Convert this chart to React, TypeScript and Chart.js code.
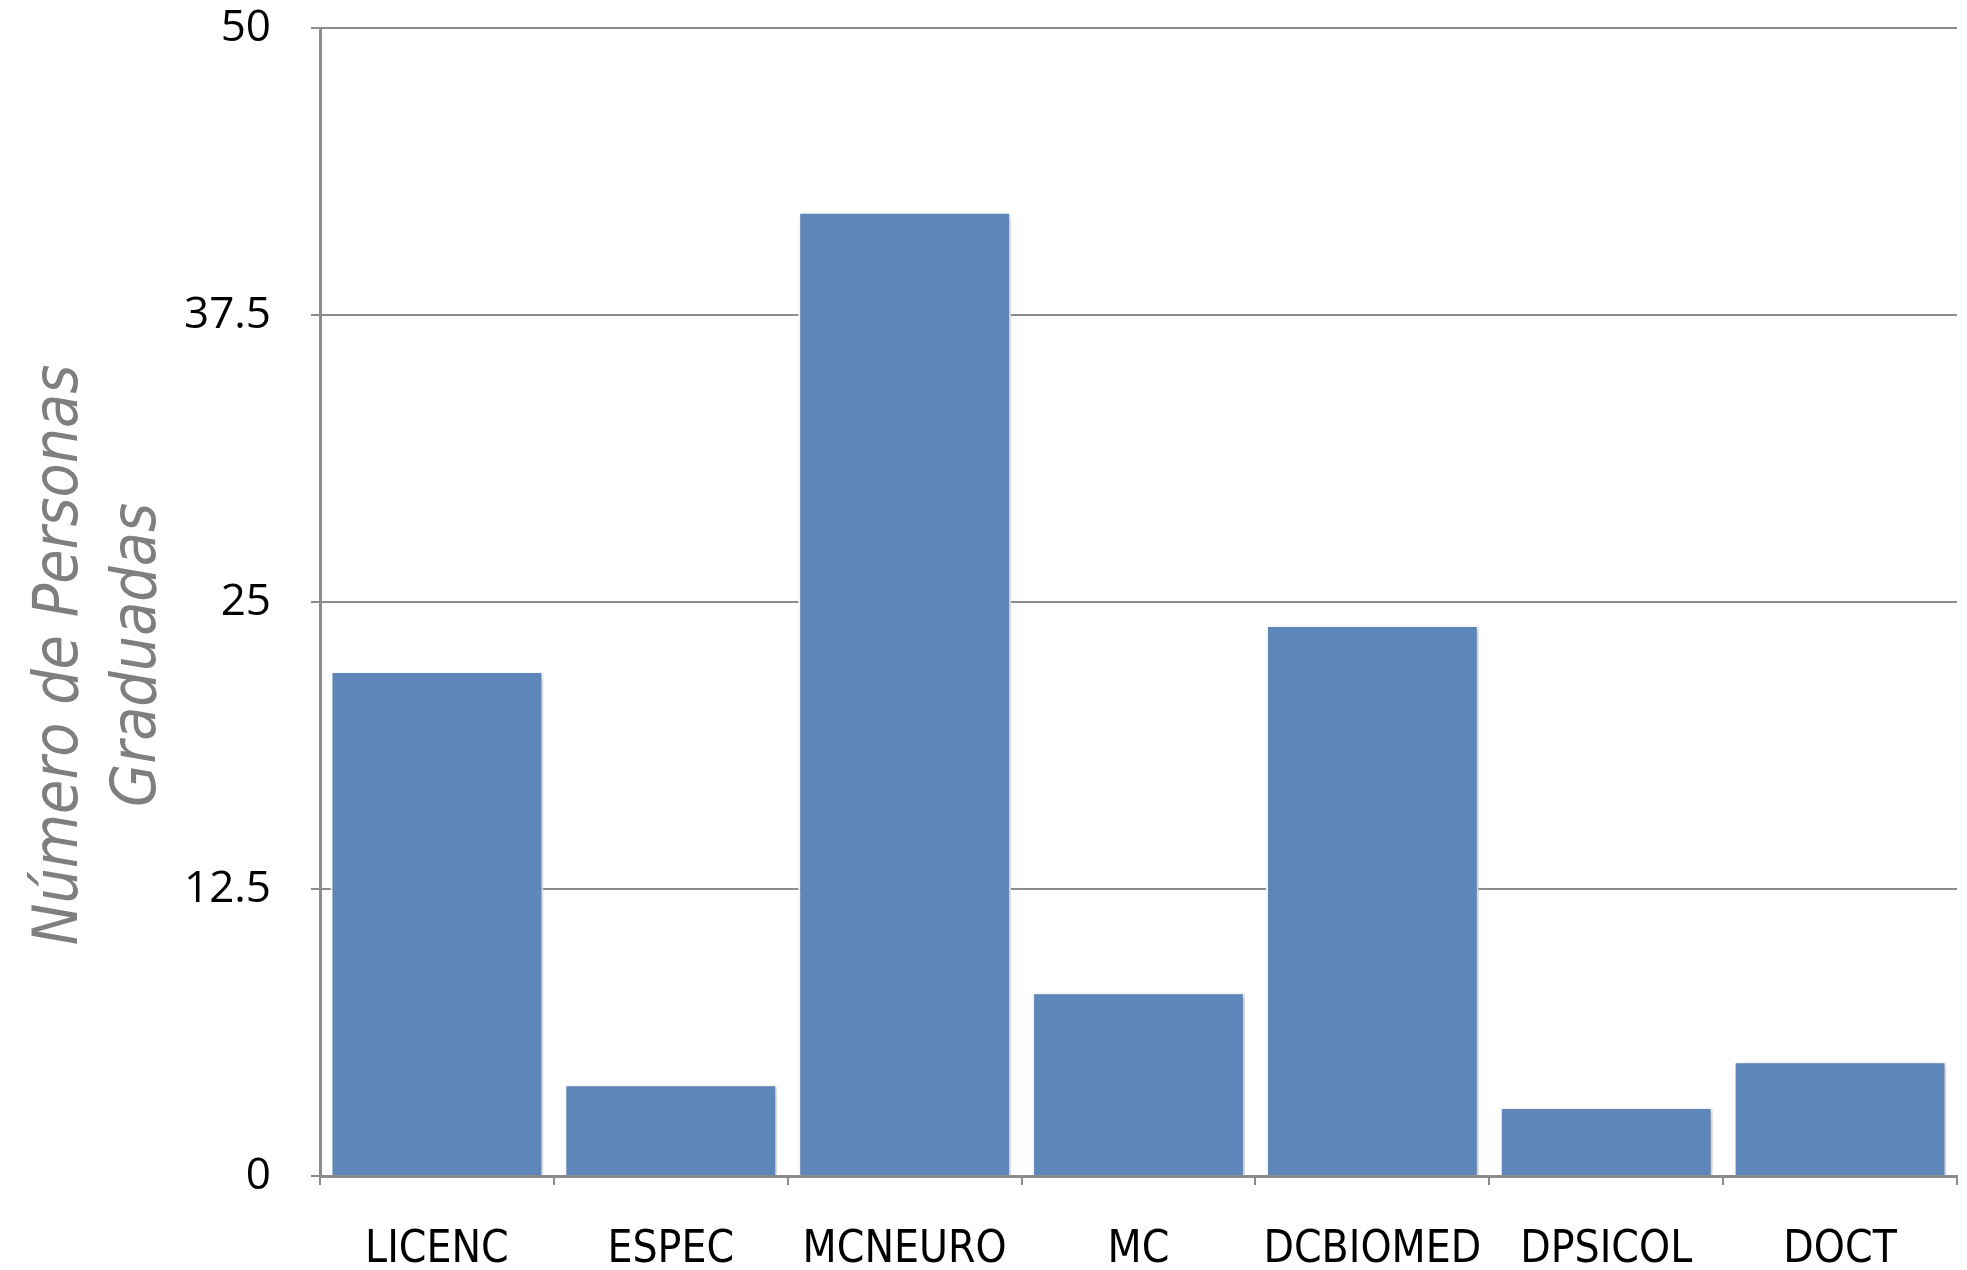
import React, { useEffect, useRef } from "react";
import { Chart, registerables } from "chart.js";

Chart.register(...registerables);

const categories: string[] = ["LICENC", "ESPEC", "MCNEURO", "MC", "DCBIOMED", "DPSICOL", "DOCT"];
const graduados: number[] = [22, 4, 42, 8, 24, 3, 5];
const yTicks: number[] = [0, 12.5, 25, 37.5, 50];
const yTitleLines: string[] = ["Número de Personas", "Graduadas"];

const W = 1967;
const H = 1270;

const narrowFont = '"Liberation Sans Narrow", "Arial Narrow", "DejaVu Sans Condensed", sans-serif';

const titlePlugin = {
  id: "yTitleRotated",
  afterDraw(chart: any) {
    const ctx = chart.ctx as CanvasRenderingContext2D;
    ctx.save();
    ctx.fillStyle = "#7f7f7f";
    ctx.font = "italic 62px " + narrowFont;
    ctx.textAlign = "center";
    ctx.textBaseline = "middle";
    const xs = [61, 139];
    const cy = 655;
    yTitleLines.forEach((line, i) => {
      ctx.save();
      ctx.translate(xs[i], cy);
      ctx.rotate(-Math.PI / 2);
      ctx.fillText(line, 0, 0);
      ctx.restore();
    });
    ctx.restore();
  },
};

const shadowPlugin = {
  id: "barShadow",
  beforeDatasetsDraw(chart: any) {
    const ctx = chart.ctx as CanvasRenderingContext2D;
    ctx.save();
    ctx.shadowColor = "rgba(0,0,0,0.28)";
    ctx.shadowBlur = 5;
    ctx.shadowOffsetX = 2;
    ctx.shadowOffsetY = 2;
  },
  afterDatasetsDraw(chart: any) {
    chart.ctx.restore();
  },
};

export default function App() {
  const ref = useRef<HTMLCanvasElement | null>(null);

  useEffect(() => {
    if (!ref.current) return;
    const chart = new Chart(ref.current, {
      type: "bar",
      data: {
        labels: categories,
        datasets: [
          {
            data: graduados,
            backgroundColor: "#5e86b8",
            borderColor: "#ffffff",
            borderWidth: 2,
            barPercentage: 0.91,
            categoryPercentage: 1,
          },
        ],
      },
      options: {
        responsive: false,
        animation: false,
        devicePixelRatio: 1,
        layout: { padding: { left: 0, right: 10, top: 28, bottom: 0 } },
        plugins: {
          legend: { display: false },
          tooltip: { enabled: false },
          title: { display: false },
        },
        scales: {
          x: {
            grid: {
              display: true,
              drawOnChartArea: false,
              drawTicks: true,
              tickLength: 9,
              color: "#8c8c8c",
              lineWidth: 2,
              offset: true,
            },
            border: { display: true, color: "#8c8c8c", width: 3 },
            ticks: {
              color: "#000000",
              padding: 39,
              maxRotation: 0,
              autoSkip: false,
              font: { family: narrowFont, size: 44 },
            },
            afterFit(scale: any) {
              scale.height = 94;
              scale.paddingLeft = 0;
              scale.paddingRight = 0;
            },
          },
          y: {
            min: 0,
            max: 50,
            afterBuildTicks(scale: any) {
              scale.ticks = yTicks.map((v) => ({ value: v }));
            },
            grid: {
              color: "#8c8c8c",
              lineWidth: 2,
              tickLength: 9,
              drawTicks: true,
            },
            border: { display: true, color: "#8c8c8c", width: 3 },
            ticks: {
              color: "#000000",
              padding: 40,
              font: { family: '"Open Sans", sans-serif', size: 44 },
              callback: (v: any) => String(v),
            },
            afterFit(scale: any) {
              scale.width = 320;
              scale.paddingTop = 0;
              scale.paddingBottom = 0;
            },
          },
        },
      },
      plugins: [titlePlugin, shadowPlugin],
    });
    return () => chart.destroy();
  }, []);

  return (
    <div style={{ position: "absolute", left: 0, top: 0, width: W, height: H, background: "#fff" }}>
      <canvas ref={ref} width={W} height={H} style={{ display: "block" }} />
    </div>
  );
}
